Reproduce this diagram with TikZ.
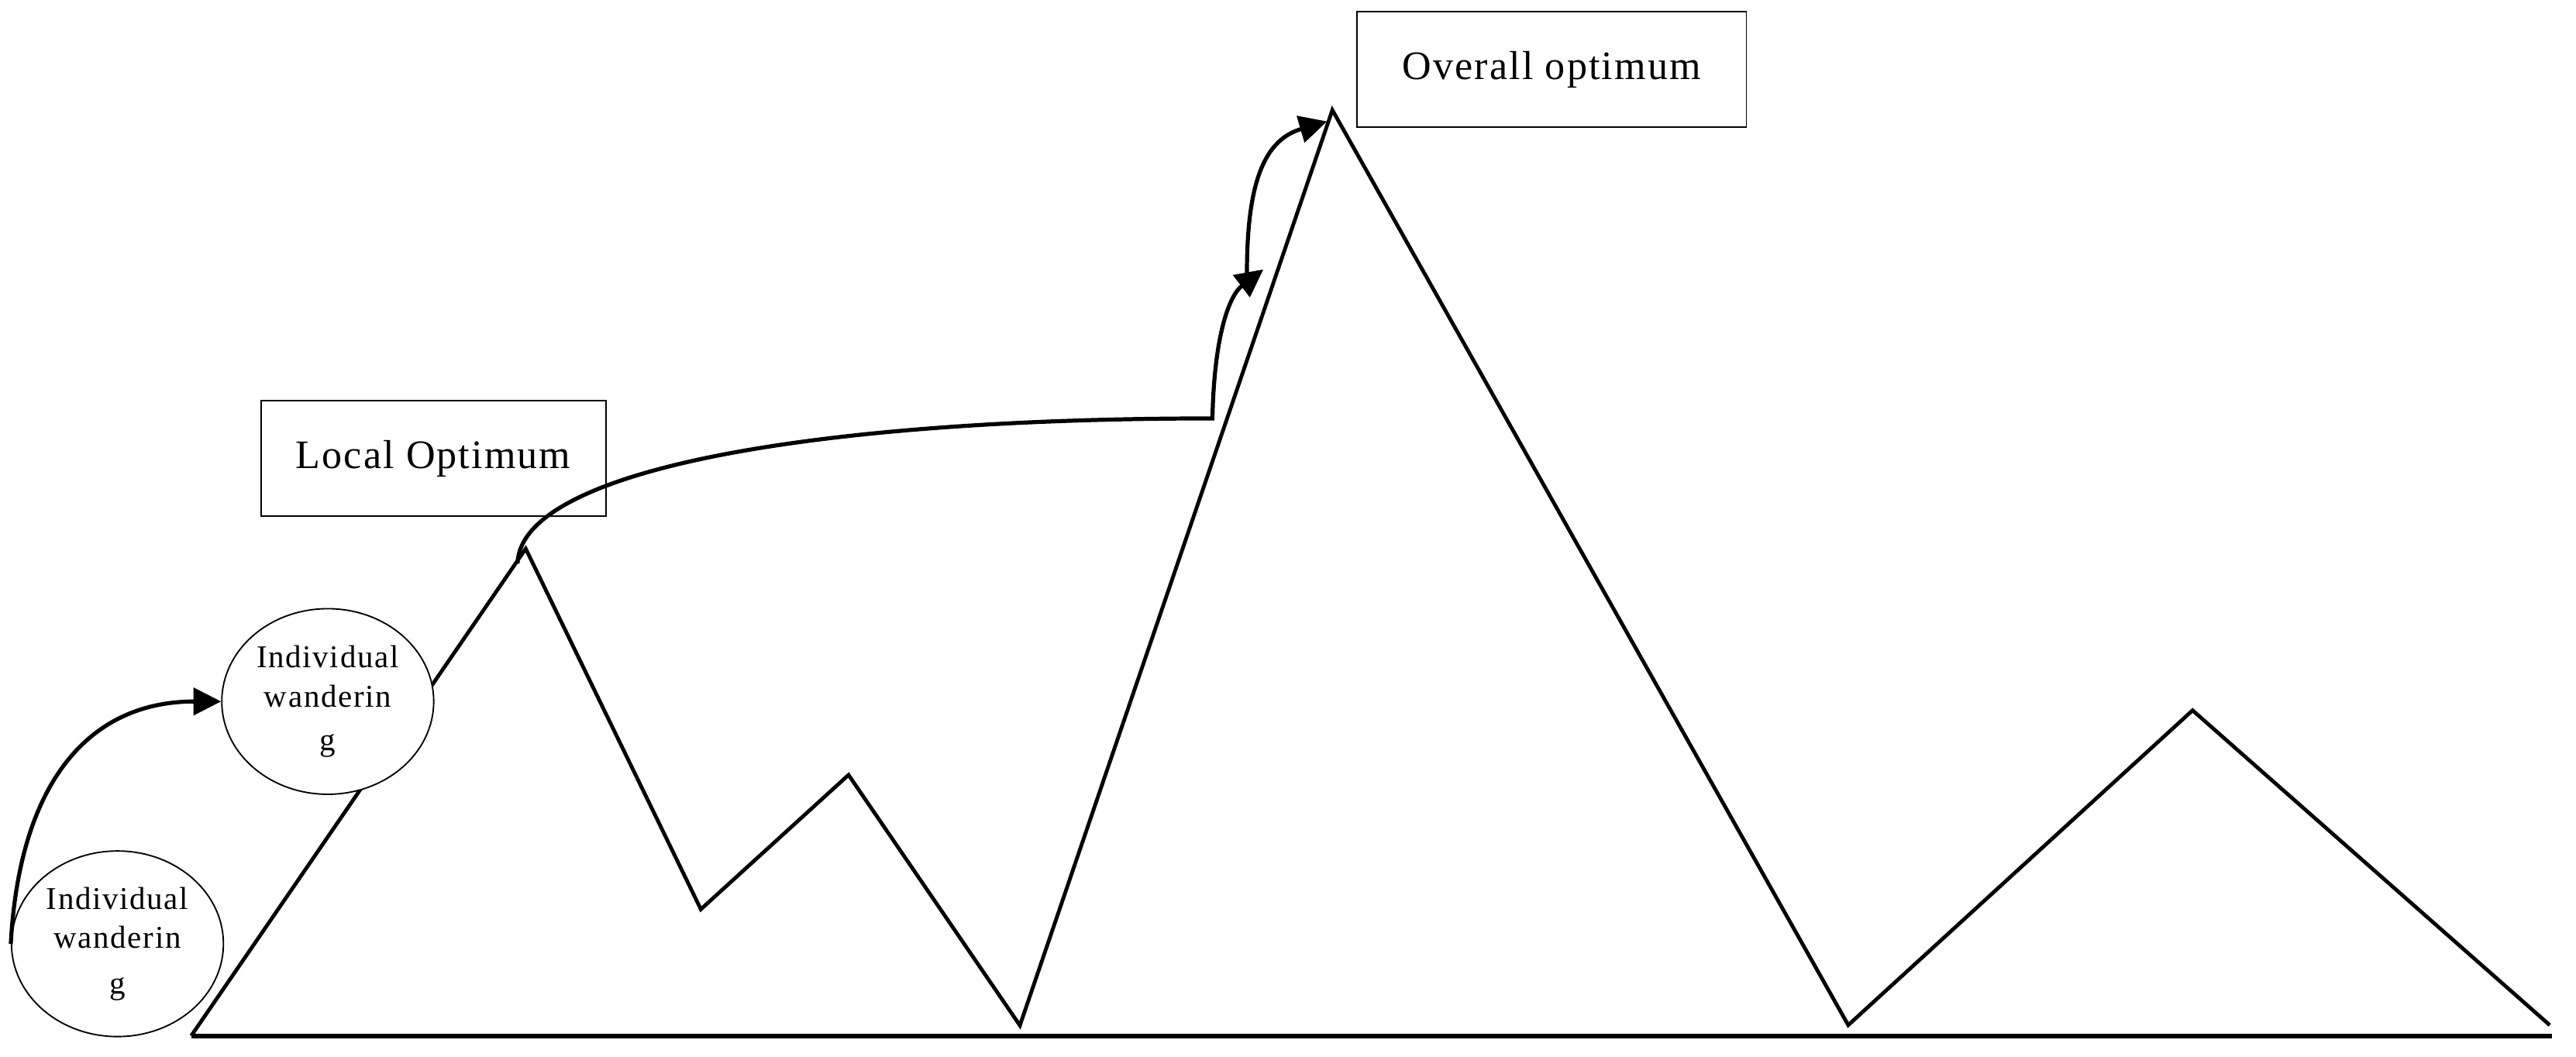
\documentclass[tikz,border=0pt]{standalone}
\usepackage{fontspec}
\setmainfont{Liberation Serif}[LetterSpace=4]
\usepackage{tikz}
\usetikzlibrary{arrows.meta, shapes.geometric}
\tikzset{
  optbox/.style={
    rectangle, draw=black, line width=0.5pt, inner sep=0pt,
    minimum height=1.41cm, text centered,
    font=\fontsize{14}{16}\selectfont
  },
  walker/.style={
    ellipse, draw=black, fill=white, line width=0.5pt, inner sep=0pt,
    minimum width=2.58cm, minimum height=2.26cm, align=center,
    font=\fontsize{11}{13.5}\selectfont
  }
}

\begin{document}
\begin{tikzpicture}[x=0.02cm, y=-0.02cm,
  ridge/.style={line width=1.3pt, line join=miter},
  ground/.style={line width=1.6pt},
  arrow/.style={-{Triangle[length=9.6pt, width=9.4pt]}, line width=1.4pt}
]
\useasboundingbox (0,0) rectangle (1568,643);

\coordinate (start) at (116.4,630.5);
\coordinate (localtop) at (320,334);
\coordinate (dip1) at (426.6,553.5);
\coordinate (hill) at (516.5,471.7);
\coordinate (dip2) at (620.8,624.2);
\coordinate (globaltop) at (811,67);
\coordinate (dip3) at (1125,624);
\coordinate (hill2) at (1334.6,432.4);
\coordinate (finish) at (1552,624);
\coordinate (groundend) at (1553.5,630.5);

\draw[ridge] (start) -- (localtop) -- (dip1) -- (hill) -- (dip2) -- (globaltop)
  -- (dip3) -- (hill2) -- (finish);
\draw[ground] (start) -- (groundend);

\node[walker] (walkA) at (71.5,574.5) {Individual\\wanderin\\[2.3pt]g};
\node[walker] (walkB) at (199.5,427) {Individual\\wanderin\\[1.5pt]g};

\node[optbox, minimum width=4.2cm] (localopt) at (263.75,279) {Local Optimum};
\node[optbox, minimum width=4.74cm] (overallopt) at (944.5,42.25) {Overall optimum};

\coordinate (jump) at (315,343);
\coordinate (corner) at (738,254.7);
\coordinate (slope) at (769,164);
\coordinate (climb) at (759,166);
\coordinate (summit) at (807.8,73.9);

\draw[arrow] (walkA.west) .. controls (12,475) and (55,427) .. (walkB.west);
\draw[arrow] (jump) .. controls (317,285) and (500,254.7) .. (corner)
  .. controls (739,205) and (748,180) .. (slope);
\draw[arrow] (climb) .. controls (759,110) and (770,85) .. (summit);

\end{tikzpicture}
\end{document}
